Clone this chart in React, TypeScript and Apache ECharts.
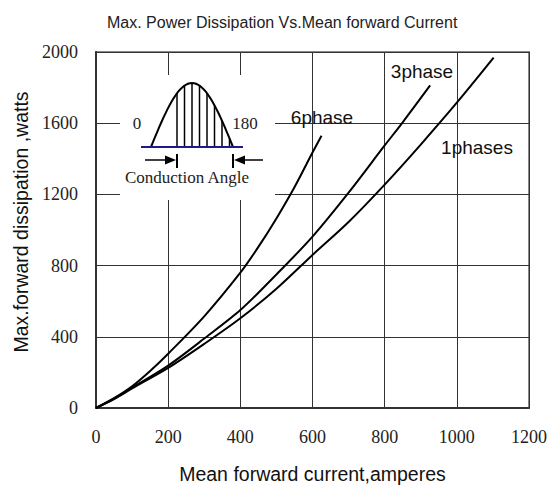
import React, { useEffect, useRef } from "react";
import * as echarts from "echarts";

const title = "Max. Power Dissipation Vs.Mean forward Current";
const xName = "Mean forward current,amperes";
const yName = "Max.forward dissipation ,watts";

const sixPhase: [number, number][] = [
  [0, 0], [50, 55], [100, 122], [150, 208], [200, 305], [300, 515], [400, 760],
  [450, 905], [500, 1065], [550, 1240], [600, 1435], [625, 1530],
];
const threePhase: [number, number][] = [
  [0, 0], [50, 52], [100, 114], [200, 238], [300, 390], [400, 550], [500, 750],
  [600, 963], [700, 1210], [800, 1475], [850, 1605], [926, 1812],
];
const onePhase: [number, number][] = [
  [0, 0], [50, 50], [100, 110], [200, 225], [300, 360], [400, 504], [500, 670],
  [600, 860], [700, 1045], [800, 1255], [900, 1480], [1000, 1715], [1102, 1968],
];
const seriesNames = ["6phase", "3phase", "1phases"];

const SANS = "Liberation Sans, Arial, sans-serif";
const SERIF = "Liberation Serif, Times New Roman, serif";

function insetGraphics() {
  const x0 = 151, x1 = 233, base = 147, amp = 64;
  const arch: number[][] = [];
  for (let i = 0; i <= 40; i++) {
    const t = i / 40;
    arch.push([x0 + (x1 - x0) * t, base - amp * Math.sin(Math.PI * t)]);
  }
  const hatch: any[] = [];
  for (let hx = 177; hx <= 231; hx += 7.5) {
    const t = (hx - x0) / (x1 - x0);
    hatch.push({
      type: "line",
      shape: { x1: hx, y1: base, x2: hx, y2: base - amp * Math.sin(Math.PI * t) },
      style: { stroke: "#000", lineWidth: 1.5 },
    });
  }
  return [
    { type: "rect", shape: { x: 120, y: 75, width: 155, height: 125 }, style: { fill: "#fff" } },
    { type: "polyline", shape: { points: arch }, style: { stroke: "#000", lineWidth: 2, fill: "none" } },
    ...hatch,
    { type: "line", shape: { x1: 141, y1: base, x2: 243, y2: base }, style: { stroke: "#1a1a8c", lineWidth: 2 } },
    { type: "text", x: 137, y: 123, style: { text: "0", font: `17px ${SERIF}`, fill: "#222", align: "center", verticalAlign: "middle" } },
    { type: "text", x: 245, y: 123, style: { text: "180", font: `17px ${SERIF}`, fill: "#222", align: "center", verticalAlign: "middle" } },
    { type: "text", x: 187, y: 177, style: { text: "Conduction Angle", font: `17px ${SERIF}`, fill: "#222", align: "center", verticalAlign: "middle" } },
    { type: "line", shape: { x1: 145, y1: 160, x2: 168, y2: 160 }, style: { stroke: "#000", lineWidth: 1.5 } },
    { type: "polygon", shape: { points: [[165, 155.5], [176, 160], [165, 164.5]] }, style: { fill: "#000" } },
    { type: "line", shape: { x1: 177, y1: 154, x2: 177, y2: 168 }, style: { stroke: "#000", lineWidth: 2 } },
    { type: "line", shape: { x1: 263, y1: 160, x2: 242, y2: 160 }, style: { stroke: "#000", lineWidth: 1.5 } },
    { type: "polygon", shape: { points: [[245, 155.5], [234, 160], [245, 164.5]] }, style: { fill: "#000" } },
    { type: "line", shape: { x1: 233, y1: 154, x2: 233, y2: 168 }, style: { stroke: "#000", lineWidth: 2 } },
  ].map((g) => ({ ...g, z: 100 }));
}

export default function App() {
  const ref = useRef<HTMLDivElement>(null);
  useEffect(() => {
    document.body.style.margin = "0";
    const chart = echarts.init(ref.current!, null, { renderer: "svg" });
    const lineSeries = (name: string, data: [number, number][]) => ({
      name,
      type: "line",
      data,
      smooth: 0.3,
      showSymbol: false,
      lineStyle: { color: "#000", width: 2 },
      z: 3,
    });
    chart.setOption({
      animation: false,
      backgroundColor: "#fff",
      title: {
        text: title,
        left: 102,
        top: 9,
        textStyle: { fontFamily: SANS, fontSize: 16, fontWeight: "normal", color: "#222" },
      },
      grid: { left: 96, right: 22, top: 52, bottom: 81, show: true, borderColor: "#888", borderWidth: 2 },
      xAxis: {
        type: "value",
        min: 0,
        max: 1200,
        interval: 200,
        name: xName,
        nameLocation: "middle",
        nameGap: 56,
        nameTextStyle: { fontFamily: SANS, fontSize: 19.5, color: "#111" },
        axisLine: { lineStyle: { color: "#333", width: 2 } },
        axisTick: { show: false },
        axisLabel: { fontFamily: SERIF, fontSize: 18, color: "#222", margin: 20, formatter: (v: number) => String(v) },
        splitLine: { lineStyle: { color: "#333", width: 1 } },
      },
      yAxis: {
        type: "value",
        min: 0,
        max: 2000,
        interval: 400,
        axisLine: { show: true, lineStyle: { color: "#333", width: 2 } },
        axisTick: { show: false },
        axisLabel: { fontFamily: SERIF, fontSize: 18, color: "#222", margin: 18, formatter: (v: number) => String(v) },
        splitLine: { lineStyle: { color: "#333", width: 1 } },
      },
      series: [
        lineSeries(seriesNames[0], sixPhase),
        lineSeries(seriesNames[1], threePhase),
        lineSeries(seriesNames[2], onePhase),
      ],
      graphic: [
        ...insetGraphics(),
        { type: "text", x: 21, y: 222, rotation: Math.PI / 2, z: 100, style: { text: yName, font: `19.5px ${SANS}`, fill: "#111", align: "center", verticalAlign: "middle" } },
        { type: "text", x: 322, y: 117, z: 100, style: { text: seriesNames[0], font: `19px ${SANS}`, fill: "#111", align: "center", verticalAlign: "middle" } },
        { type: "text", x: 422, y: 71, z: 100, style: { text: seriesNames[1], font: `19px ${SANS}`, fill: "#111", align: "center", verticalAlign: "middle" } },
        { type: "text", x: 477, y: 147, z: 100, style: { text: seriesNames[2], font: `19px ${SANS}`, fill: "#111", align: "center", verticalAlign: "middle" } },
      ],
    });
    return () => chart.dispose();
  }, []);
  return <div ref={ref} style={{ width: 551, height: 489 }} />;
}
